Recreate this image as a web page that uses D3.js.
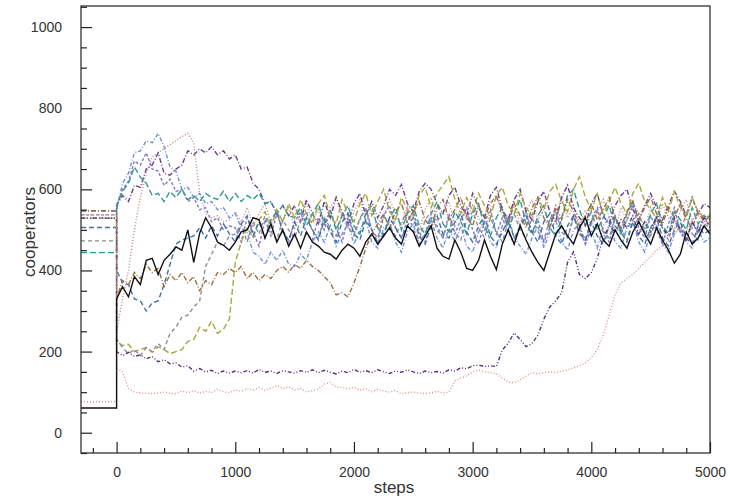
<!DOCTYPE html>
<html lang="en">
<head>
<meta charset='utf-8'>
<title>cooperators vs steps</title>
<style>
    body { margin: 0; background: #fff; }
    text { font-family: "Liberation Sans", Arial, sans-serif; fill: #333; }
</style>
</head>
<body>
<div id="chart"></div>
<script src="https://cdn.jsdelivr.net/npm/d3@7/dist/d3.min.js"></script>
<script>
    var width = 730, height = 504;
    var plotLeft = 81, plotRight = 710, plotTop = 6, plotBottom = 453;

    // one value every 50 steps, from step 0 to step 5000 (10 values per row = 500 steps)
    var steps = d3.range(0, 5001, 50);

    // value before step 0 for each run
    var initial = [76, 529, 537, 547, 444, 529, 473, 506, 547, 529, 537, 61];

    var dottedRun = [
        250,330,400,500,580,640,680,690,700,710,
        720,730,738,715,590,540,530,535,520,525,
        545,520,555,510,540,565,515,545,520,555,
        505,540,565,520,550,510,555,580,530,505,
        545,575,520,550,505,535,575,540,510,560,
        530,500,550,580,520,545,570,510,555,525,
        560,530,500,545,580,550,520,565,510,545,
        575,525,550,505,540,580,530,560,515,550,
        510,545,575,530,500,555,520,565,540,505,
        555,520,565,530,500,545,575,520,550,525,
        540];
    var blueRun = [
        550,615,640,690,695,720,715,738,705,655,
        645,600,605,580,590,565,570,550,555,530,
        540,505,495,445,435,415,445,425,450,415,
        410,440,425,470,495,470,510,460,490,515,
        465,500,525,470,455,505,520,470,445,495,
        515,465,490,525,480,455,505,470,510,460,
        445,495,520,470,455,510,535,480,460,440,
        480,510,455,495,525,470,450,500,515,465,
        500,455,510,530,470,455,505,520,470,445,
        495,515,465,445,490,510,470,455,500,470,
        480];
    var violetRun = [
        560,600,620,670,660,690,650,645,610,625,
        595,600,570,580,550,555,520,530,500,510,
        505,470,530,495,460,525,485,540,500,470,
        520,545,490,475,530,500,550,505,470,530,
        490,525,555,500,470,535,560,505,480,525,
        545,495,470,530,510,480,540,490,525,555,
        500,465,520,550,490,530,495,465,515,545,
        490,525,470,505,550,510,480,535,500,465,
        520,555,500,470,530,490,525,560,505,480,
        535,500,465,515,555,495,470,520,490,535,
        505];
    var purpleRun = [
        560,585,570,610,605,650,660,690,640,635,
        650,660,695,685,700,690,705,685,695,675,
        685,650,655,615,600,565,570,540,560,535,
        560,520,575,540,515,570,530,580,545,515,
        565,590,535,570,530,560,600,585,612,565,
        545,595,615,600,565,540,585,605,560,535,
        590,555,530,585,605,550,525,575,600,545,
        525,570,595,545,520,580,610,555,530,510,
        565,590,535,515,560,585,600,550,525,560,
        590,555,525,560,595,570,535,580,540,565,
        555];
    var tealRun = [
        560,595,615,655,630,615,585,590,570,595,
        580,600,575,585,570,590,580,575,595,570,
        590,570,585,575,590,565,570,540,560,535,
        530,555,510,540,565,515,545,500,535,560,
        510,490,540,560,505,485,530,555,500,540,
        560,510,490,540,570,515,495,545,520,490,
        540,565,505,485,530,555,500,540,575,515,
        490,535,560,505,485,530,585,600,550,510,
        545,500,530,560,510,490,540,570,520,495,
        540,565,510,490,545,525,500,555,515,535,
        525];
    var oliveRun = [
        225,215,218,200,205,210,198,212,205,195,
        200,205,225,230,260,250,275,245,255,280,
        420,470,505,480,525,545,505,550,520,565,
        530,575,540,515,565,585,535,515,575,540,
        520,565,590,535,570,600,545,525,580,550,
        535,585,605,555,590,610,631,575,540,580,
        545,590,560,530,585,605,560,540,590,555,
        535,580,550,595,612,570,545,600,631,580,
        550,590,540,570,605,565,540,590,615,570,
        550,530,580,545,595,555,530,580,545,530,
        535];
    var grayRun = [
        230,210,195,205,190,210,200,220,205,245,
        260,285,290,310,325,410,440,470,460,485,
        490,515,470,520,490,535,495,475,525,500,
        480,525,545,495,480,530,505,485,540,510,
        485,530,550,500,480,535,510,485,520,545,
        500,475,525,545,500,480,530,495,475,525,
        545,505,480,530,495,470,520,540,500,480,
        530,495,475,525,545,495,480,530,505,475,
        525,545,495,480,530,505,475,525,540,495,
        485,530,505,475,525,495,540,490,475,515,
        505];
    var steelRun = [
        400,370,365,330,325,300,320,325,365,415,
        465,475,480,485,505,480,510,485,515,490,
        470,515,535,485,520,480,525,545,495,475,
        520,485,530,500,475,525,495,470,520,540,
        490,475,525,500,465,490,530,505,480,510,
        530,485,465,510,535,490,480,520,540,495,
        470,510,535,485,465,495,525,480,505,535,
        495,470,520,540,485,465,510,535,490,475,
        520,485,465,510,535,495,470,520,485,465,
        505,530,480,460,500,520,480,465,510,490,
        500];
    var brownRun = [
        330,375,365,395,380,415,395,405,360,390,
        375,395,370,385,350,375,365,395,390,405,
        395,410,380,395,375,390,380,400,410,395,
        415,405,425,410,400,385,370,340,345,335,
        369,409,455,490,515,540,505,545,565,520,
        545,570,525,505,555,575,525,550,580,530,
        510,560,530,565,585,540,515,565,535,505,
        555,580,530,505,560,525,575,545,510,535,
        565,525,550,580,530,505,545,570,525,555,
        580,540,515,555,530,565,525,505,545,520,
        535];
    var lowPurpleRun = [
        200,190,198,188,192,182,188,175,180,170,
        172,162,165,152,158,150,154,146,152,147,
        152,148,153,147,156,149,152,146,153,150,
        147,153,149,155,148,154,149,145,152,148,
        156,149,153,148,155,150,146,152,149,155,
        150,146,152,148,151,147,155,152,160,158,
        165,167,163,165,163,204,221,246,230,212,
        220,240,280,310,325,345,420,446,390,380,
        395,430,480,510,495,525,505,535,490,520,
        495,535,505,485,530,500,475,520,495,530,
        510];
    var salmonRun = [
        160,150,110,100,98,97,96,98,100,97,
        96,103,99,104,97,102,99,107,101,98,
        106,102,109,105,111,104,110,116,109,113,
        105,109,100,104,108,120,124,113,112,108,
        112,105,109,101,107,103,100,104,96,99,
        100,98,96,98,102,98,100,128,135,140,
        150,155,150,148,145,135,125,123,130,140,
        148,145,148,150,148,152,155,160,165,172,
        185,205,240,290,340,369,380,390,405,420,
        434,450,460,475,490,505,495,525,535,515,
        520];
    var blackRun = [
        330,360,335,385,365,425,430,390,425,440,
        458,450,500,420,492,530,505,470,462,450,
        470,495,500,530,525,480,515,470,500,460,
        490,455,495,470,460,445,440,428,450,465,
        455,435,470,490,465,485,505,480,465,510,
        495,460,485,510,455,435,428,475,445,405,
        400,425,475,435,402,465,500,465,510,475,
        445,420,400,445,490,510,485,465,505,530,
        485,515,475,460,500,475,455,495,520,490,
        465,505,475,450,418,440,495,465,480,510,
        490];

    var runs = [dottedRun, blueRun, violetRun, purpleRun, tealRun, oliveRun,
                grayRun, steelRun, brownRun, lowPurpleRun, salmonRun, blackRun];

    var colors = ["#b88a86", "#6f8fdc", "#8476c8", "#6a3f92", "#2e9a92", "#a9a83a",
                  "#8c8c98", "#3f72a6", "#9c6e40", "#54347e", "#e4948a", "#111111"];
    var dashes = ["1,2", "4,2,1,2", "3,2", "5,2,1,2", "6,3", "6,3",
                  "4,3", "5,3", "5,2,1,2", "4,2,1,2,1,2", "1,2", null];

    var xTicks = [0, 1000, 2000, 3000, 4000, 5000];
    var yTicks = [0, 200, 400, 600, 800, 1000];

    var svg = d3.select("#chart").append("svg")
        .attr("width", width).attr("height", height);

    var x = d3.scaleLinear().domain([-300, 5000]).range([plotLeft, plotRight]);
    var y = d3.scaleLinear().domain([-50, 1052]).range([plotBottom, plotTop]);

    svg.append("clipPath").attr("id", "plot")
        .append("rect")
        .attr("x", plotLeft).attr("y", plotTop)
        .attr("width", plotRight - plotLeft).attr("height", plotBottom - plotTop);

    var line = d3.line()
        .x(function(d) { return x(d[0]); })
        .y(function(d) { return y(d[1]); });

    var g = svg.append("g").attr("clip-path", "url(#plot)");

    runs.forEach(function(run, i) {
        var pts = [[-300, initial[i]], [0, initial[i]]];
        run.forEach(function(v, j) { pts.push([steps[j], v]); });
        g.append("path")
            .datum(pts)
            .attr("d", line)
            .attr("fill", "none")
            .attr("stroke", colors[i])
            .attr("stroke-width", 1.4)
            .attr("stroke-dasharray", dashes[i]);
    });

    // frame
    svg.append("rect")
        .attr("x", plotLeft).attr("y", plotTop)
        .attr("width", plotRight - plotLeft).attr("height", plotBottom - plotTop)
        .attr("fill", "none").attr("stroke", "#222").attr("stroke-width", 1.2);

    // inward ticks
    var xMinor = d3.range(-200, 5000, 200).filter(function(d) { return d % 1000 !== 0; });
    var yMinor = d3.range(-50, 1051, 50).filter(function(d) { return d % 200 !== 0; });

    var xAxis = d3.axisBottom(x).tickValues(xTicks).tickSize(-11).tickPadding(14)
        .tickFormat(d3.format("d"));
    var xAxisMinor = d3.axisBottom(x).tickValues(xMinor).tickSize(-5).tickFormat("");
    var yAxis = d3.axisLeft(y).tickValues(yTicks).tickSize(-11).tickPadding(19)
        .tickFormat(d3.format("d"));
    var yAxisMinor = d3.axisLeft(y).tickValues(yMinor).tickSize(-6).tickFormat("");

    [xAxis, xAxisMinor].forEach(function(a) {
        svg.append("g").attr("transform", "translate(0," + plotBottom + ")").call(a);
    });
    [yAxis, yAxisMinor].forEach(function(a) {
        svg.append("g").attr("transform", "translate(" + plotLeft + ",0)").call(a);
    });

    svg.selectAll(".domain").remove();
    svg.selectAll(".tick line").attr("stroke", "#222").attr("stroke-width", 1.2);
    svg.selectAll(".tick text")
        .style("font-size", "14px")
        .style("fill", "#333")
        .style("font-family", "'Liberation Sans', Arial, sans-serif");

    svg.append("text")
        .attr("x", 394).attr("y", 493)
        .attr("text-anchor", "middle")
        .style("font-size", "17px")
        .text("steps");

    svg.append("text")
        .attr("transform", "translate(35,232) rotate(-90)")
        .attr("text-anchor", "middle")
        .style("font-size", "17px")
        .text("cooperators");
</script>
</body>
</html>
